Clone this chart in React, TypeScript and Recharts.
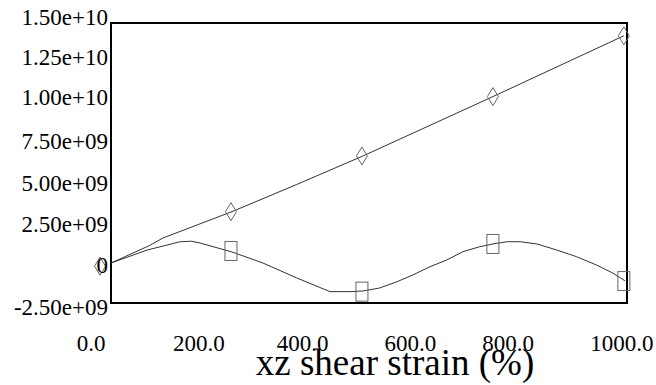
import { ComposedChart, Line, Scatter, XAxis, YAxis, ReferenceArea } from "recharts";

// linear-ish stress curve
const linStrain = [21, 95, 120, 252, 375, 502, 750, 1000];
const linStress = [0, 1.1e9, 1.56e9, 3.21e9, 4.9e9, 6.69e9, 10.4e9, 14.2e9];

// oscillating curve
const wavStrain = [21, 90, 153, 175, 191, 252, 311, 376, 439, 477, 502, 534, 567, 597, 630, 662, 693, 725, 750, 777, 802, 834, 872, 910, 948, 979, 1002];
const wavStress = [0, 0.81e9, 1.33e9, 1.36e9, 1.25e9, 0.69e9, 0, -0.94e9, -1.79e9, -1.79e9, -1.75e9, -1.56e9, -1.17e9, -0.75e9, -0.23e9, 0.19e9, 0.71e9, 1.02e9, 1.19e9, 1.33e9, 1.33e9, 1.19e9, 0.81e9, 0.39e9, -0.13e9, -0.63e9, -1.11e9];

// marker samples
const diamondStrain = [0, 250, 500, 750, 1000];
const diamondStress = [-0.2e9, 3.21e9, 6.69e9, 10.4e9, 14.2e9];
const squareStrain = [250, 500, 750, 1000];
const squareStress = [0.75e9, -1.79e9, 1.19e9, -1.13e9];

const xTicks = [0, 200, 400, 600, 800, 1000];
const xTickLabels = ["0.0", "200.0", "400.0", "600.0", "800.0", "1000.0"];
const yTicks = [-2.5e9, 0, 2.5e9, 5e9, 7.5e9, 1e10, 1.25e10, 1.5e10];
const yTickLabels = ["-2.50e+09", "0", "2.50e+09", "5.00e+09", "7.50e+09", "1.00e+10", "1.25e+10", "1.50e+10"];

const toPoints = (xs: number[], ys: number[]) => xs.map((x, i) => ({ x, y: ys[i] }));

const serif = (size: number) => ({ fontFamily: "Liberation Serif, Times New Roman, serif", fontSize: size });
const xShift = [-9, -6, -7, -4, -11, -2];
const yShift = [4.5, 2.5, 1.5, 0.5, -1.5, -5.5, -5.5, -5.5];

const XTick = ({ x, y, payload }: any) => {
  const i = xTicks.indexOf(payload.value);
  return (
    <text x={x + xShift[i]} y={y + 47.5} textAnchor="middle" style={serif(23)} fill="#000">
      {xTickLabels[i]}
    </text>
  );
};

const YTick = ({ x, y, payload }: any) => {
  const i = yTicks.indexOf(payload.value);
  return (
    <text x={x + 8} y={y + yShift[i] + 7.5} textAnchor="end" style={serif(23)} fill="#000">
      {yTickLabels[i]}
    </text>
  );
};

const Diamond = ({ cx, cy }: any) => (
  <path
    d={`M${cx},${cy - 9} L${cx + 5.5},${cy} L${cx},${cy + 9} L${cx - 5.5},${cy} Z`}
    fill="none"
    stroke="#666"
    strokeWidth={1}
  />
);

const Square = ({ cx, cy }: any) => (
  <rect x={cx - 6} y={cy - 9.5} width={12} height={19} fill="none" stroke="#666" strokeWidth={1} />
);

export default function App() {
  return (
    <div style={{ width: 656, height: 385, background: "#fff" }}>
      <style>{"body{margin:0}"}</style>
      <ComposedChart width={656} height={385} margin={{ top: 23, right: 29, left: 0, bottom: 0 }}>
        <XAxis
          type="number"
          dataKey="x"
          domain={[0, 1006]}
          ticks={xTicks}
          tick={(p: any) => <XTick {...p} />}
          axisLine={false}
          tickLine={false}
          tickSize={0}
          tickMargin={0}
          height={82}
          label={({ viewBox }: any) => (
            <text
              x={viewBox.x + viewBox.width / 2 + 31.5}
              y={viewBox.y + 72}
              textAnchor="middle"
              style={serif(37)}
              fill="#000"
            >
              xz shear strain (%)
            </text>
          )}
        />
        <YAxis
          type="number"
          domain={[-2.5e9, 1.5e10]}
          ticks={yTicks}
          tick={(p: any) => <YTick {...p} />}
          axisLine={false}
          tickLine={false}
          tickSize={0}
          tickMargin={0}
          width={100}
        />
        <ReferenceArea
          x1={21}
          x2={1006}
          y1={-2.5e9}
          y2={1.5e10}
          fill="none"
          stroke="#000"
          strokeWidth={2}
          ifOverflow="visible"
        />
        <Line
          data={toPoints(wavStrain, wavStress)}
          dataKey="y"
          type="linear"
          stroke="#333"
          strokeWidth={1}
          dot={false}
          activeDot={false}
          isAnimationActive={false}
        />
        <Line
          data={toPoints(linStrain, linStress)}
          dataKey="y"
          type="linear"
          stroke="#333"
          strokeWidth={1}
          dot={false}
          activeDot={false}
          isAnimationActive={false}
        />
        <Scatter data={toPoints(diamondStrain, diamondStress)} dataKey="y" shape={<Diamond />} isAnimationActive={false} />
        <Scatter data={toPoints(squareStrain, squareStress)} dataKey="y" shape={<Square />} isAnimationActive={false} />
      </ComposedChart>
    </div>
  );
}
